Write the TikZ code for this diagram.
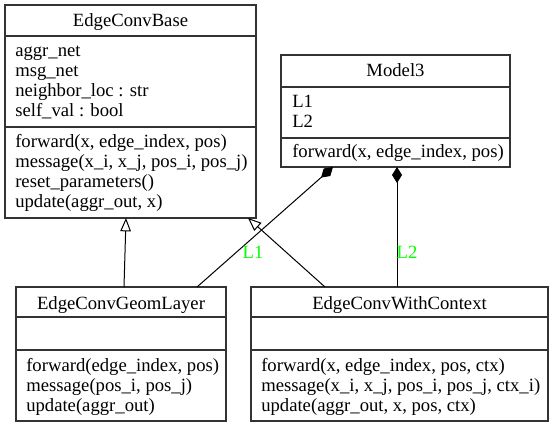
\documentclass[tikz,border=0pt]{standalone}
\usepackage{fontspec}
\setmainfont{Liberation Serif}
\usetikzlibrary{arrows.meta,calc}
\begin{document}
\begin{tikzpicture}[x=0.75pt,y=-0.75pt,
  cls/.style={draw=black!80,line width=1pt,inner sep=0pt,outer sep=0pt,anchor=north west},
  txt/.style={inner sep=0pt,anchor=base west,font=\fontsize{14pt}{15pt}\selectfont},
  ttl/.style={inner sep=0pt,anchor=base,font=\fontsize{14pt}{15pt}\selectfont},
  div/.style={draw=black!80,line width=1pt},
  inh/.style={line width=0.75pt,-{Triangle[open,length=10pt,width=8pt]}},
  comp/.style={line width=0.75pt,-{Diamond[length=12pt,width=7.5pt]}},
  lbl/.style={text=green,inner sep=0pt,font=\fontsize{14pt}{15pt}\selectfont}]
\useasboundingbox (0,0) rectangle (552,427);
% EdgeConvBase
\node[cls,minimum width={251*0.75pt},minimum height={213*0.75pt}] (base) at (5,5) {};
\draw[div] ($(base.north west)+(0,31)$) -- ($(base.north east)+(0,31)$);
\draw[div] ($(base.north west)+(0,122)$) -- ($(base.north east)+(0,122)$);
\node[ttl] (baseT) at (130.5,27) {EdgeConvBase};
\foreach \t [count=\i] in {{aggr\_net},{msg\_net},{neighbor\_loc : str},{self\_val : bool}}
  \node[txt] (baseA\i) at (15,{37+20*\i}) {\t};
\foreach \t [count=\i] in {{forward(x, edge\_index, pos)},{message(x\_i, x\_j, pos\_i, pos\_j)},{reset\_parameters()},{update(aggr\_out, x)}}
  \node[txt] (baseM\i) at (15,{128+20*\i}) {\t};
% Model3
\node[cls,minimum width={229*0.75pt},minimum height={112*0.75pt}] (model) at (281,55) {};
\draw[div] ($(model.north west)+(0,32)$) -- ($(model.north east)+(0,32)$);
\draw[div] ($(model.north west)+(0,83)$) -- ($(model.north east)+(0,83)$);
\node[ttl] (modelT) at (395.5,77) {Model3};
\node[txt] (modelA1) at (292,108) {L1};
\node[txt] (modelA2) at (292,128) {L2};
\node[txt] (modelM1) at (292,158) {forward(x, edge\_index, pos)};
% EdgeConvGeomLayer
\node[cls,minimum width={210*0.75pt},minimum height={134*0.75pt}] (geom) at (16,287) {};
\draw[div] ($(geom.north west)+(0,30)$) -- ($(geom.north east)+(0,30)$);
\draw[div] ($(geom.north west)+(0,63)$) -- ($(geom.north east)+(0,63)$);
\node[ttl] (geomT) at (121,309) {EdgeConvGeomLayer};
\foreach \t [count=\i] in {{forward(edge\_index, pos)},{message(pos\_i, pos\_j)},{update(aggr\_out)}}
  \node[txt] (geomM\i) at (26,{351+20*\i}) {\t};
% EdgeConvWithContext
\node[cls,minimum width={297*0.75pt},minimum height={134*0.75pt}] (ctx) at (251,287) {};
\draw[div] ($(ctx.north west)+(0,30)$) -- ($(ctx.north east)+(0,30)$);
\draw[div] ($(ctx.north west)+(0,63)$) -- ($(ctx.north east)+(0,63)$);
\node[ttl] (ctxT) at (399.5,309) {EdgeConvWithContext};
\foreach \t [count=\i] in {{forward(x, edge\_index, pos, ctx)},{message(x\_i, x\_j, pos\_i, pos\_j, ctx\_i)},{update(aggr\_out, x, pos, ctx)}}
  \node[txt] (ctxM\i) at (261,{351+20*\i}) {\t};
% connectors
\draw[inh] ($(geom.north west)+(108,0)$) -- ($(base.south west)+(121,0)$);
\draw[inh] ($(ctx.north west)+(74,0)$) -- ($(base.south west)+(243,0)$);
\draw[comp] ($(geom.north west)+(181,0)$) -- ($(model.south west)+(52,0)$);
\draw[comp] ($(ctx.north west)+(146,0)$) -- ($(model.south west)+(116,0)$);
\node[lbl] (l1) at (253,252) {L1};
\node[lbl] (l2) at (407,252) {L2};
\end{tikzpicture}
\end{document}
